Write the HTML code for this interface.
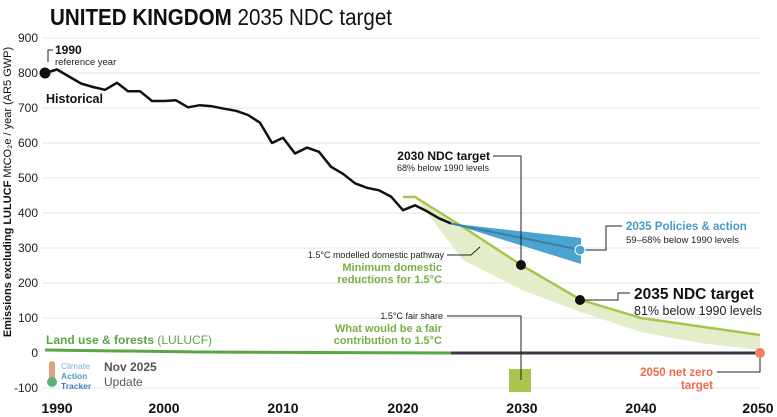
<!DOCTYPE html>
<html><head><meta charset="utf-8"><style>
body{margin:0;background:#fff;}
svg{display:block;font-family:"Liberation Sans","DejaVu Sans",sans-serif;}
</style></head><body>
<svg width="777" height="417" viewBox="0 0 777 417" xmlns="http://www.w3.org/2000/svg">
<text x="50" y="25" font-size="23" fill="#111" textLength="342" lengthAdjust="spacingAndGlyphs"><tspan font-weight="bold">UNITED KINGDOM</tspan> 2035 NDC target</text>
<g stroke="#e4e4e4" stroke-width="1">
<line x1="42" y1="38" x2="760" y2="38"/><line x1="42" y1="73" x2="760" y2="73"/><line x1="42" y1="108" x2="760" y2="108"/><line x1="42" y1="143" x2="760" y2="143"/><line x1="42" y1="178" x2="760" y2="178"/><line x1="42" y1="213" x2="760" y2="213"/><line x1="42" y1="248" x2="760" y2="248"/><line x1="42" y1="283" x2="760" y2="283"/><line x1="42" y1="318" x2="760" y2="318"/><line x1="42" y1="388" x2="760" y2="388"/>
</g>
<g font-size="12" fill="#222" text-anchor="end">
<text x="38" y="42">900</text><text x="38" y="77">800</text><text x="38" y="112">700</text><text x="38" y="147">600</text><text x="38" y="182">500</text><text x="38" y="217">400</text><text x="38" y="252">300</text><text x="38" y="287">200</text><text x="38" y="322">100</text><text x="38" y="357">0</text><text x="38" y="392">-100</text>
</g>
<text transform="translate(11,192) rotate(-90)" font-size="11" text-anchor="middle" fill="#111"><tspan font-weight="bold">Emissions excluding LULUCF</tspan> MtCO₂e / year (AR5 GWP)</text>
<g font-size="14" font-weight="bold" fill="#111" text-anchor="middle">
<text x="57" y="413">1990</text><text x="164" y="413">2000</text><text x="283" y="413">2010</text><text x="403" y="413">2020</text><text x="522" y="413">2030</text><text x="641" y="413">2040</text><text x="758" y="413">2050</text>
</g>
<polygon points="403,197 415,197 463,260 522,290 581,312 641,332 700,343 760,350 760,335 641,318 581,300 522,265.5 463,227 415,197" fill="#e3edca"/>
<polyline points="403,197 415,197 463,227 522,265.5 581,300 641,318 760,335" fill="none" stroke="#a8c64e" stroke-width="2.5"/>
<polygon points="451,223.5 581,238 581,264" fill="#4ba3cf"/>
<line x1="451" y1="223.5" x2="581" y2="250" stroke="#3d7fa6" stroke-width="2"/>
<polyline points="45,350 200,352 451,353" fill="none" stroke="#5aa645" stroke-width="3"/>
<line x1="451" y1="353" x2="760" y2="353" stroke="#3a3a46" stroke-width="3"/>
<polyline points="45,73 57,69.5 69,76.5 81,83.5 93,87 105,89.8 117,82.8 128,91.2 140,91.2 152,101 164,101 176,100.3 188,107.3 200,105.2 212,106.3 224,108.7 236,110.8 248,115 260,122.7 272,143 283,137.8 295,153.5 307,147.6 319,151.8 331,166.8 343,173.8 355,183.3 367,187.8 379,190.3 391,196.6 403,210.2 415,205.3 427,211.3 439,218.3 451,223.5" fill="none" stroke="#111" stroke-width="2.5" stroke-linejoin="round"/>
<circle cx="45" cy="73" r="5.5" fill="#111"/>
<path d="M48,62 V50 H53" fill="none" stroke="#222"/>
<text x="55" y="54" font-size="12" font-weight="bold" fill="#111">1990</text>
<text x="55" y="65" font-size="9.5" fill="#222">reference year</text>
<text x="46" y="103" font-size="12.5" font-weight="bold" fill="#111">Historical</text>
<path d="M493,156 H521 V263" fill="none" stroke="#222"/>
<circle cx="521" cy="265" r="5" fill="#111"/>
<text x="490" y="160" font-size="12" font-weight="bold" fill="#111" text-anchor="end">2030 NDC target</text>
<text x="489" y="171" font-size="9" fill="#222" text-anchor="end">68% below 1990 levels</text>
<path d="M585,250 H606 V226 H622" fill="none" stroke="#222"/>
<circle cx="580" cy="250" r="5" fill="#4ba3cf" stroke="#fff" stroke-width="1"/>
<text x="626" y="230" font-size="11.5" font-weight="bold" fill="#4a98c8">2035 Policies &amp; action</text>
<text x="626" y="243" font-size="9.5" fill="#222">59–68% below 1990 levels</text>
<path d="M585,300 H618 V293 H630" fill="none" stroke="#222"/>
<circle cx="580" cy="300" r="5" fill="#111"/>
<text x="634" y="299" font-size="15.5" font-weight="bold" fill="#111">2035 NDC target</text>
<text x="634" y="315" font-size="12.5" fill="#222">81% below 1990 levels</text>
<path d="M447,255 H471 L480,247" fill="none" stroke="#222"/>
<text x="444" y="258" font-size="9" fill="#222" text-anchor="end">1.5°C modelled domestic pathway</text>
<text x="442" y="271" font-size="11" font-weight="bold" fill="#78b046" text-anchor="end">Minimum domestic</text>
<text x="442" y="283" font-size="11" font-weight="bold" fill="#78b046" text-anchor="end">reductions for 1.5°C</text>
<rect x="509" y="369" width="22" height="23" fill="#a8c64e"/>
<path d="M447,316 H521 V380" fill="none" stroke="#222"/>
<text x="443" y="319" font-size="9" fill="#222" text-anchor="end">1.5°C fair share</text>
<text x="442" y="332" font-size="11" font-weight="bold" fill="#78b046" text-anchor="end">What would be a fair</text>
<text x="442" y="344" font-size="11" font-weight="bold" fill="#78b046" text-anchor="end">contribution to 1.5°C</text>
<text x="46" y="344" font-size="12" fill="#5aa645"><tspan font-weight="bold">Land use &amp; forests</tspan> (LULUCF)</text>
<circle cx="760" cy="353" r="5" fill="#f08060"/>
<path d="M760,358 V372 H717" fill="none" stroke="#222"/>
<text x="713" y="376" font-size="11.5" font-weight="bold" fill="#f06a4a" text-anchor="end">2050 net zero</text>
<text x="713" y="389" font-size="11.5" font-weight="bold" fill="#f06a4a" text-anchor="end">target</text>
<rect x="49" y="361" width="6" height="20" rx="3" fill="#e0a080"/>
<circle cx="52" cy="382" r="5" fill="#5ab07a"/>
<text x="61" y="369" font-size="8.5" fill="#7ab0d8">Climate</text>
<text x="61" y="379" font-size="8.5" font-weight="bold" fill="#4a98c8">Action</text>
<text x="61" y="389" font-size="8.5" font-weight="bold" fill="#3a80b8">Tracker</text>
<text x="104" y="371" font-size="12" font-weight="bold" fill="#555">Nov 2025</text>
<text x="104" y="386" font-size="12" fill="#555">Update</text>
</svg>
</body></html>
